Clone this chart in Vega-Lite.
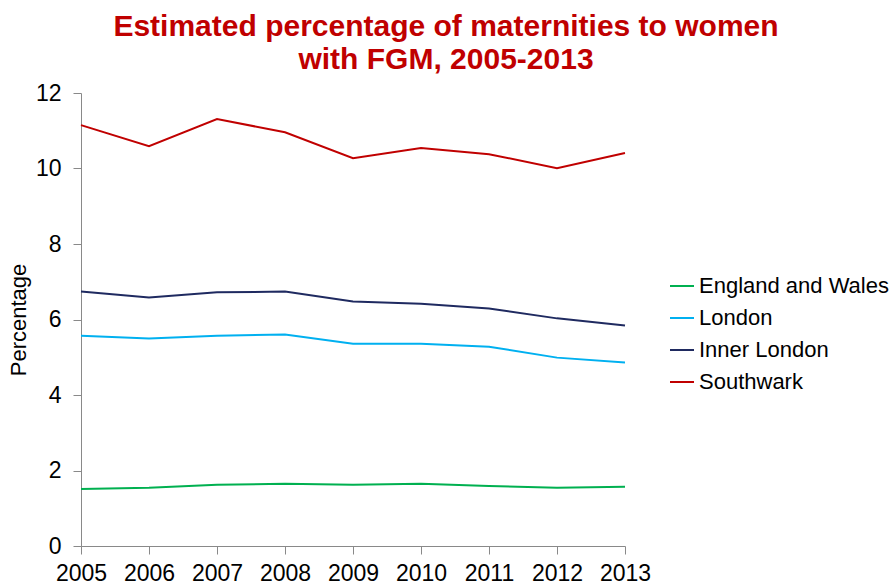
{
  "$schema": "https://vega.github.io/schema/vega-lite/v6.json",
  "autosize": "none",
  "width": 544,
  "height": 453,
  "padding": {"left": 81, "top": 93, "right": 267, "bottom": 39},
  "background": "white",
  "config": {
    "font": "Liberation Sans",
    "view": {"stroke": null}
  },
  "title": {
    "text": ["Estimated percentage of maternities to women", "with FGM, 2005-2013"],
    "font": "Liberation Sans",
    "fontSize": 30,
    "fontWeight": "bold",
    "color": "#C00000",
    "anchor": "middle",
    "frame": "group",
    "dx": 93,
    "offset": 7,
    "lineHeight": 33
  },
  "data": {
    "values": [
      {"year": 2005, "area": "England and Wales", "pct": 1.51},
      {"year": 2006, "area": "England and Wales", "pct": 1.54},
      {"year": 2007, "area": "England and Wales", "pct": 1.62},
      {"year": 2008, "area": "England and Wales", "pct": 1.65},
      {"year": 2009, "area": "England and Wales", "pct": 1.62},
      {"year": 2010, "area": "England and Wales", "pct": 1.65},
      {"year": 2011, "area": "England and Wales", "pct": 1.59},
      {"year": 2012, "area": "England and Wales", "pct": 1.54},
      {"year": 2013, "area": "England and Wales", "pct": 1.57},
      {"year": 2005, "area": "London", "pct": 5.57},
      {"year": 2006, "area": "London", "pct": 5.50},
      {"year": 2007, "area": "London", "pct": 5.57},
      {"year": 2008, "area": "London", "pct": 5.60},
      {"year": 2009, "area": "London", "pct": 5.36},
      {"year": 2010, "area": "London", "pct": 5.36},
      {"year": 2011, "area": "London", "pct": 5.28},
      {"year": 2012, "area": "London", "pct": 4.99},
      {"year": 2013, "area": "London", "pct": 4.86},
      {"year": 2005, "area": "Inner London", "pct": 6.74},
      {"year": 2006, "area": "Inner London", "pct": 6.58},
      {"year": 2007, "area": "Inner London", "pct": 6.72},
      {"year": 2008, "area": "Inner London", "pct": 6.74},
      {"year": 2009, "area": "Inner London", "pct": 6.48},
      {"year": 2010, "area": "Inner London", "pct": 6.42},
      {"year": 2011, "area": "Inner London", "pct": 6.29},
      {"year": 2012, "area": "Inner London", "pct": 6.03},
      {"year": 2013, "area": "Inner London", "pct": 5.84},
      {"year": 2005, "area": "Southwark", "pct": 11.15},
      {"year": 2006, "area": "Southwark", "pct": 10.59},
      {"year": 2007, "area": "Southwark", "pct": 11.31},
      {"year": 2008, "area": "Southwark", "pct": 10.96},
      {"year": 2009, "area": "Southwark", "pct": 10.27},
      {"year": 2010, "area": "Southwark", "pct": 10.54},
      {"year": 2011, "area": "Southwark", "pct": 10.38},
      {"year": 2012, "area": "Southwark", "pct": 10.01},
      {"year": 2013, "area": "Southwark", "pct": 10.41}
    ]
  },
  "mark": {"type": "line", "strokeWidth": 2},
  "encoding": {
    "x": {
      "field": "year",
      "type": "quantitative",
      "scale": {"domain": [2005, 2013], "nice": false, "zero": false},
      "axis": {
        "values": [2005, 2006, 2007, 2008, 2009, 2010, 2011, 2012, 2013],
        "format": "d",
        "title": null,
        "grid": false,
        "domainColor": "#898989",
        "tickColor": "#898989",
        "tickSize": 8,
        "labelFontSize": 23,
        "labelColor": "#000000",
        "labelPadding": 8,
        "labelFlush": false,
        "labelOverlap": false,
        "labelBound": false
      }
    },
    "y": {
      "field": "pct",
      "type": "quantitative",
      "scale": {"domain": [0, 12], "nice": false},
      "axis": {
        "values": [0, 2, 4, 6, 8, 10, 12],
        "title": "Percentage",
        "titleFontSize": 22,
        "titleFontWeight": "normal",
        "titleColor": "#000000",
        "titlePadding": 5,
        "grid": false,
        "domainColor": "#898989",
        "tickColor": "#898989",
        "tickSize": 8,
        "labelFontSize": 23,
        "labelColor": "#000000",
        "labelPadding": 12
      }
    },
    "color": {
      "field": "area",
      "type": "nominal",
      "scale": {
        "domain": ["England and Wales", "London", "Inner London", "Southwark"],
        "range": ["#00B050", "#00B0F0", "#1F2A60", "#C00000"]
      },
      "legend": {
        "title": null,
        "orient": "none",
        "legendX": 588,
        "legendY": 180,
        "symbolType": "stroke",
        "symbolSize": 576,
        "symbolStrokeWidth": 2,
        "labelFontSize": 22,
        "labelColor": "#000000",
        "labelOffset": 4,
        "rowPadding": 8,
        "labelLimit": 300
      }
    }
  }
}
